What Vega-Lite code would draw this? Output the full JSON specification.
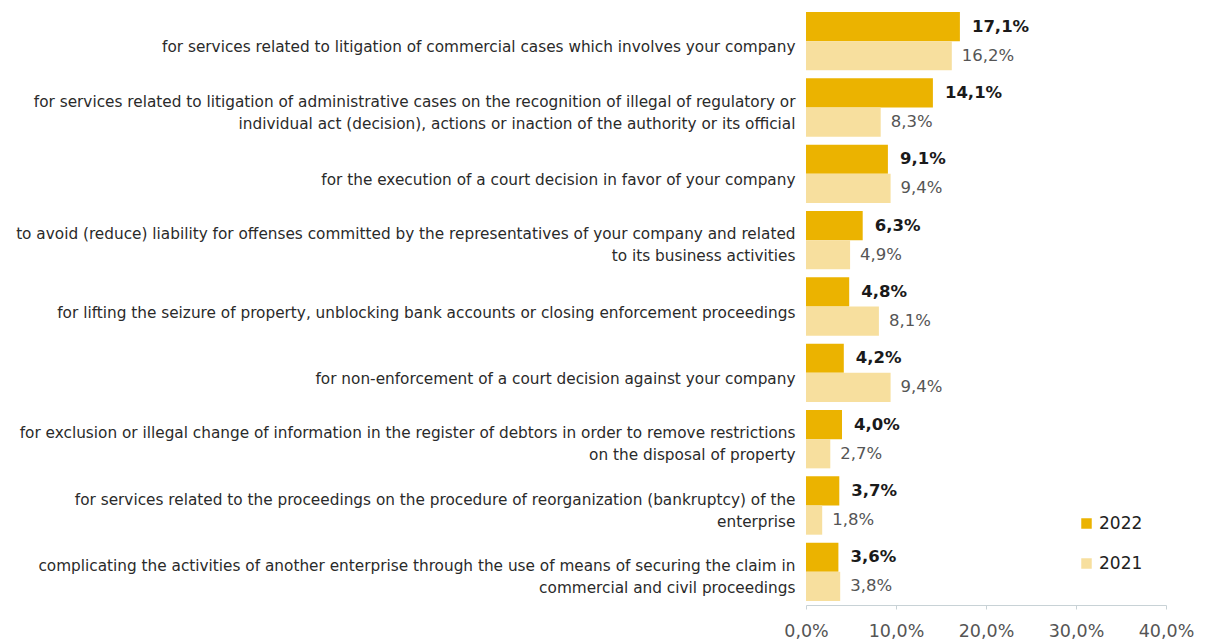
{
  "$schema": "https://vega.github.io/schema/vega-lite/v6.json",
  "autosize": {"type": "none"},
  "padding": {"left": 806, "top": 8, "right": 39, "bottom": 34},
  "width": 360,
  "height": 597,
  "background": "white",
  "config": {
    "view": {"stroke": null},
    "locale": {"number": {"decimal": ",", "thousands": " ", "grouping": [3], "currency": ["", ""]}},
    "font": "DejaVu Sans"
  },
  "data": {
    "values": [
      {"order": 1, "cat": "for services related to litigation of commercial cases which involves your company", "year": "2022", "value": 0.171},
      {"order": 1, "cat": "for services related to litigation of commercial cases which involves your company", "year": "2021", "value": 0.162},
      {"order": 2, "cat": "for services related to litigation of administrative cases on the recognition of illegal of regulatory or|individual act (decision), actions or inaction of the authority or its official", "year": "2022", "value": 0.141},
      {"order": 2, "cat": "for services related to litigation of administrative cases on the recognition of illegal of regulatory or|individual act (decision), actions or inaction of the authority or its official", "year": "2021", "value": 0.083},
      {"order": 3, "cat": "for the execution of a court decision in favor of your company", "year": "2022", "value": 0.091},
      {"order": 3, "cat": "for the execution of a court decision in favor of your company", "year": "2021", "value": 0.094},
      {"order": 4, "cat": "to avoid (reduce) liability for offenses committed by the representatives of your company and related|to its business activities", "year": "2022", "value": 0.063},
      {"order": 4, "cat": "to avoid (reduce) liability for offenses committed by the representatives of your company and related|to its business activities", "year": "2021", "value": 0.049},
      {"order": 5, "cat": "for lifting the seizure of property, unblocking bank accounts or closing enforcement proceedings", "year": "2022", "value": 0.048},
      {"order": 5, "cat": "for lifting the seizure of property, unblocking bank accounts or closing enforcement proceedings", "year": "2021", "value": 0.081},
      {"order": 6, "cat": "for non-enforcement of a court decision against your company", "year": "2022", "value": 0.042},
      {"order": 6, "cat": "for non-enforcement of a court decision against your company", "year": "2021", "value": 0.094},
      {"order": 7, "cat": "for exclusion or illegal change of information in the register of debtors in order to remove restrictions|on the disposal of property", "year": "2022", "value": 0.040},
      {"order": 7, "cat": "for exclusion or illegal change of information in the register of debtors in order to remove restrictions|on the disposal of property", "year": "2021", "value": 0.027},
      {"order": 8, "cat": "for services related to the proceedings on the procedure of reorganization (bankruptcy) of the|enterprise", "year": "2022", "value": 0.037},
      {"order": 8, "cat": "for services related to the proceedings on the procedure of reorganization (bankruptcy) of the|enterprise", "year": "2021", "value": 0.018},
      {"order": 9, "cat": "complicating the activities of another enterprise through the use of means of securing the claim in|commercial and civil proceedings", "year": "2022", "value": 0.036},
      {"order": 9, "cat": "complicating the activities of another enterprise through the use of means of securing the claim in|commercial and civil proceedings", "year": "2021", "value": 0.038}
    ]
  },
  "encoding": {
    "y": {
      "field": "cat", "type": "nominal",
      "sort": {"field": "order", "op": "min", "order": "ascending"},
      "scale": {"paddingInner": 0.12, "paddingOuter": 0.06},
      "axis": {
        "title": null, "domain": false, "ticks": false,
        "labelExpr": "split(datum.label, '|')",
        "labelFont": "DejaVu Sans", "labelFontSize": 15.3, "labelColor": "#2a2a2a",
        "labelLineHeight": 22, "labelPadding": 11,
        "labelOffset": {"condition": {"test": "indexof(datum.value, '|') >= 0", "value": -6}, "value": 6},
        "labelLimit": 820, "labelAlign": "right"
      }
    },
    "yOffset": {"field": "year", "type": "nominal", "sort": ["2022", "2021"], "scale": {"paddingInner": 0, "paddingOuter": 0}},
    "x": {
      "field": "value", "type": "quantitative",
      "scale": {"domain": [0, 0.4], "nice": false},
      "axis": {
        "title": null, "format": ".1%", "values": [0, 0.1, 0.2, 0.3, 0.4],
        "grid": false, "domainColor": "#c8d2d6", "tickColor": "#c8d2d6", "tickSize": 4,
        "labelFlush": false,
        "labelFont": "DejaVu Sans", "labelFontSize": 17.5, "labelColor": "#555555", "labelPadding": 13
      }
    }
  },
  "layer": [
    {
      "mark": {"type": "bar"},
      "encoding": {
        "color": {
          "field": "year", "type": "nominal",
          "scale": {"domain": ["2022", "2021"], "range": ["#ebb300", "#f7df9e"]},
          "legend": {
            "title": null, "orient": "none", "legendX": 272, "legendY": 507,
            "symbolType": "square", "symbolSize": 110, "symbolStrokeWidth": 0,
            "labelFont": "DejaVu Sans", "labelFontSize": 17, "labelColor": "#222222",
            "rowPadding": 22, "labelOffset": 4
          }
        }
      }
    },
    {
      "transform": [{"filter": "datum.year == '2022'"}],
      "mark": {"type": "text", "align": "left", "baseline": "middle", "dx": 12, "font": "DejaVu Sans", "fontSize": 16.5, "fontWeight": "bold", "color": "#1a1a1a"},
      "encoding": {"text": {"field": "value", "type": "quantitative", "format": ".1%"}}
    },
    {
      "transform": [{"filter": "datum.year == '2021'"}],
      "mark": {"type": "text", "align": "left", "baseline": "middle", "dx": 10, "font": "DejaVu Sans", "fontSize": 16.5, "color": "#555555"},
      "encoding": {"text": {"field": "value", "type": "quantitative", "format": ".1%"}}
    }
  ]
}
